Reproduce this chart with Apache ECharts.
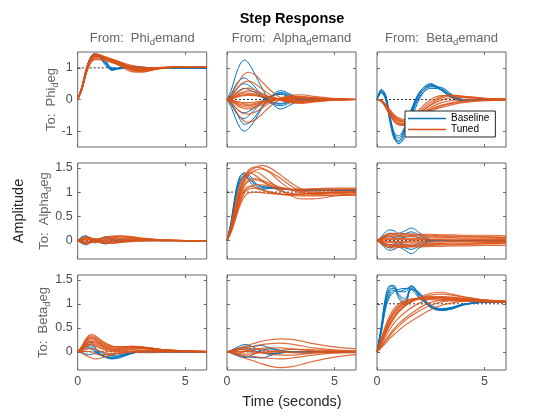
<!DOCTYPE html>
<html><head><meta charset="utf-8">
<script src="https://cdn.jsdelivr.net/npm/echarts@6/dist/echarts.min.js"></script>
<style>html,body{margin:0;padding:0;background:#fff}#c{width:560px;height:420px}</style>
</head><body><div id="c"></div>
<script>
// ---------- DATA ----------
const T = [0,0.2,0.4,0.6,0.8,1.0,1.3,1.6,2.0,2.5,3.0,3.5,4.0,5.0,6.0];
const inputNames = ['Phi','Alpha','Beta'];   // From: <name>_d emand
const outputNames = ['Phi','Alpha','Beta'];  // To: <name>_d eg
const xTicks = [0,5];
const xRange = [0,6];
const yTicksTop = [-1,0,1];
const yTicksLower = [0,0.5,1,1.5];
const yRangeTop = [-1.5,1.5];
const yRangeLower = [-0.38,1.6];
const refLevels = [[1,0,0],[0,1,0],[0,0,1]];
const seriesNames = ['Baseline','Tuned'];

// To: Phi
const phiPhiBase = [
 [0,0.35,0.92,1.32,1.45,1.38,1.12,0.93,1.0,1.05,1.01,0.99,1.0,1.0,1.0],
 [0,0.32,0.88,1.28,1.43,1.4,1.18,0.95,0.98,1.04,1.02,1.0,1.0,1.0,1.0],
 [0,0.38,0.95,1.35,1.44,1.34,1.08,0.92,1.01,1.05,1.01,0.99,1.0,1.0,1.0],
 [0,0.3,0.85,1.25,1.4,1.4,1.22,0.98,0.97,1.03,1.02,1.0,1.0,1.0,1.0],
 [0,0.36,0.9,1.3,1.42,1.36,1.14,0.96,1.0,1.04,1.01,1.0,1.0,1.0,1.0],
 [0,0.33,0.87,1.27,1.41,1.38,1.2,1.0,0.99,1.03,1.01,1.0,1.0,1.0,1.0]
];
const phiPhiTuned = [
 [0,0.4,0.95,1.3,1.42,1.4,1.3,1.2,1.08,0.92,0.88,0.94,0.99,1.03,1.03],
 [0,0.38,0.9,1.25,1.38,1.38,1.32,1.24,1.12,0.96,0.9,0.95,1.0,1.04,1.03],
 [0,0.42,0.98,1.32,1.44,1.42,1.33,1.22,1.05,0.88,0.86,0.93,0.99,1.03,1.03],
 [0,0.36,0.86,1.2,1.32,1.33,1.3,1.26,1.16,1.02,0.96,0.97,1.01,1.04,1.04],
 [0,0.4,0.93,1.28,1.4,1.4,1.35,1.28,1.17,1.04,0.98,0.98,1.01,1.04,1.03],
 [0,0.35,0.84,1.18,1.28,1.28,1.25,1.2,1.12,1.03,0.99,0.99,1.01,1.03,1.03],
 [0,0.41,0.96,1.3,1.4,1.37,1.28,1.18,1.06,0.94,0.91,0.95,1.0,1.04,1.03],
 [0,0.37,0.88,1.23,1.35,1.35,1.3,1.22,1.12,1.0,0.95,0.97,1.01,1.03,1.02],
 [0,0.39,0.92,1.26,1.37,1.36,1.32,1.26,1.18,1.08,1.02,1.0,1.01,1.03,1.02],
 [0,0.34,0.82,1.15,1.26,1.26,1.22,1.16,1.09,1.02,0.99,1.0,1.02,1.04,1.03],
 [0,0.4,0.94,1.29,1.41,1.39,1.31,1.21,1.1,0.97,0.92,0.95,1.0,1.04,1.04],
 [0,0.37,0.89,1.24,1.36,1.36,1.31,1.25,1.15,1.0,0.93,0.95,1.0,1.03,1.03]
];
const alphaPhiBase = [
 [0,0.3,0.75,1.1,1.25,1.15,0.8,0.4,-0.05,-0.3,-0.15,0,0.03,0,0],
 [0,-0.25,-0.6,-0.88,-1.0,-0.92,-0.65,-0.3,0.05,0.28,0.15,0,-0.03,0,0],
 [0,0.18,0.45,0.62,0.68,0.6,0.4,0.15,-0.1,-0.2,-0.08,0.02,0,0,0],
 [0,-0.16,-0.4,-0.56,-0.6,-0.52,-0.32,-0.1,0.1,0.2,0.08,-0.02,0,0,0],
 [0,0.12,0.3,0.44,0.5,0.45,0.3,0.1,-0.08,-0.15,-0.05,0.02,0,0,0],
 [0,-0.1,-0.26,-0.38,-0.42,-0.38,-0.25,-0.06,0.1,0.16,0.06,-0.01,0,0,0],
 [0,0.08,0.2,0.3,0.35,0.32,0.22,0.08,-0.05,-0.12,-0.06,0,0,0,0],
 [0,-0.14,-0.36,-0.62,-0.78,-0.75,-0.55,-0.25,0.05,0.22,0.12,0,-0.02,0,0]
];
const alphaPhiTuned = [
 [0,0.15,0.4,0.62,0.8,0.86,0.78,0.58,0.3,0.05,-0.1,-0.12,-0.08,-0.02,0],
 [0,-0.14,-0.36,-0.55,-0.68,-0.72,-0.65,-0.48,-0.22,0.02,0.14,0.15,0.1,0.03,0],
 [0,0.1,0.28,0.45,0.55,0.58,0.5,0.35,0.15,-0.02,-0.1,-0.1,-0.06,-0.01,0],
 [0,-0.1,-0.25,-0.38,-0.45,-0.46,-0.4,-0.28,-0.1,0.05,0.1,0.1,0.06,0.02,0],
 [0,0.07,0.18,0.28,0.34,0.36,0.3,0.2,0.08,-0.03,-0.08,-0.08,-0.05,-0.01,0],
 [0,-0.06,-0.15,-0.24,-0.28,-0.3,-0.26,-0.18,-0.06,0.04,0.08,0.07,0.05,0.01,0],
 [0,0.04,0.1,0.16,0.2,0.2,0.17,0.12,0.06,0.0,-0.04,-0.05,-0.04,-0.02,0],
 [0,-0.04,-0.1,-0.15,-0.18,-0.19,-0.16,-0.1,-0.03,0.03,0.05,0.05,0.04,0.02,0.01],
 [0,0.02,0.06,0.1,0.12,0.13,0.12,0.09,0.05,0.02,0.0,-0.02,-0.02,-0.01,0],
 [0,-0.02,-0.05,-0.08,-0.1,-0.1,-0.08,-0.05,-0.02,0.01,0.03,0.03,0.02,0.01,0],
 [0,0.05,0.13,0.2,0.25,0.27,0.24,0.17,0.08,0.0,-0.05,-0.06,-0.05,-0.02,0],
 [0,-0.05,-0.12,-0.19,-0.23,-0.24,-0.21,-0.14,-0.05,0.02,0.06,0.06,0.04,0.02,0],
 [0,0.03,0.08,0.12,0.15,0.16,0.14,0.1,0.04,-0.01,-0.03,-0.04,-0.03,-0.01,0],
 [0,-0.03,-0.07,-0.11,-0.14,-0.15,-0.13,-0.08,-0.02,0.02,0.04,0.04,0.03,0.01,0]
];
const betaPhiBase = [
 [0,0.3,0.1,-0.6,-1.2,-1.38,-1.1,-0.5,0.15,0.45,0.35,0.1,-0.02,-0.02,0],
 [0,0.25,0.05,-0.7,-1.25,-1.32,-0.95,-0.35,0.25,0.5,0.3,0.05,-0.04,-0.01,0],
 [0,0.32,0.15,-0.5,-1.1,-1.4,-1.2,-0.65,0.05,0.4,0.38,0.15,0.0,-0.02,0],
 [0,0.2,0.0,-0.65,-1.1,-1.22,-0.9,-0.4,0.2,0.42,0.3,0.08,-0.02,-0.01,0],
 [0,0.28,0.08,-0.55,-1.05,-1.15,-0.85,-0.3,0.25,0.48,0.28,0.05,-0.03,0,0],
 [0,0.22,0.02,-0.6,-1.15,-1.3,-1.0,-0.45,0.1,0.35,0.32,0.12,0.0,-0.02,0]
];
const betaPhiTuned = [
 [0,-0.05,-0.2,-0.42,-0.6,-0.72,-0.78,-0.7,-0.5,-0.25,-0.1,-0.03,0,0.02,0.01],
 [0,-0.06,-0.25,-0.5,-0.7,-0.8,-0.82,-0.72,-0.45,-0.15,0.05,0.12,0.1,0.04,0.01],
 [0,-0.04,-0.18,-0.38,-0.55,-0.65,-0.7,-0.65,-0.5,-0.32,-0.2,-0.12,-0.07,-0.03,-0.01],
 [0,-0.05,-0.22,-0.45,-0.65,-0.76,-0.8,-0.68,-0.38,-0.08,0.1,0.14,0.1,0.04,0.01],
 [0,-0.03,-0.15,-0.32,-0.48,-0.58,-0.63,-0.58,-0.46,-0.3,-0.18,-0.1,-0.05,-0.02,0],
 [0,-0.05,-0.2,-0.4,-0.58,-0.68,-0.72,-0.64,-0.42,-0.18,-0.02,0.06,0.06,0.03,0.01],
 [0,-0.06,-0.24,-0.48,-0.68,-0.78,-0.76,-0.6,-0.3,0.0,0.12,0.12,0.08,0.03,0.01],
 [0,-0.04,-0.17,-0.36,-0.52,-0.62,-0.68,-0.62,-0.48,-0.36,-0.25,-0.16,-0.1,-0.04,-0.02]
];
// To: Alpha
const phiAlphaBase = [
 [0,0.08,0.1,0.02,-0.05,0.02,0.08,0.03,-0.02,0,0,0,0,0,0],
 [0,-0.06,-0.09,-0.02,0.04,-0.03,-0.07,-0.02,0.02,0,0,0,0,0,0],
 [0,0.05,0.07,0.0,-0.03,0.03,0.06,0.02,-0.01,0,0,0,0,0,0],
 [0,-0.04,-0.06,0.01,0.03,-0.02,-0.05,-0.01,0.01,0,0,0,0,0,0]
];
const phiAlphaTuned = [
 [0,0.04,0.07,0.05,0.02,0.03,0.06,0.08,0.09,0.07,0.04,0.02,0.01,0,0],
 [0,-0.04,-0.06,-0.04,-0.02,-0.03,-0.05,-0.05,-0.03,-0.01,0,0,0,0,0],
 [0,0.03,0.05,0.04,0.01,0.02,0.04,0.06,0.07,0.06,0.04,0.03,0.01,0,0],
 [0,-0.03,-0.05,-0.03,0.0,-0.01,-0.03,-0.02,0,0.02,0.03,0.02,0.01,0,0],
 [0,0.02,0.03,0.02,0.0,0.01,0.02,0.04,0.05,0.04,0.02,0.01,0,0,0],
 [0,-0.02,-0.03,-0.02,-0.01,-0.02,-0.03,-0.03,-0.02,0,0.01,0.01,0.01,0,0],
 [0,0.05,0.08,0.06,0.03,0.04,0.07,0.09,0.1,0.08,0.05,0.03,0.01,0,0],
 [0,-0.05,-0.07,-0.05,-0.02,-0.04,-0.06,-0.06,-0.04,-0.02,-0.01,0,0,0,0],
 [0,0.01,0.02,0.01,0.0,0.0,0.01,0.02,0.03,0.03,0.02,0.01,0.01,0,0],
 [0,-0.01,-0.02,-0.01,0.0,-0.01,-0.01,-0.01,0.0,0.01,0.01,0.01,0,0,0]
];
const alphaAlphaBase = [
 [0,0.4,0.95,1.3,1.4,1.32,1.15,1.08,1.1,1.08,1.05,1.04,1.04,1.04,1.04],
 [0,0.35,0.85,1.2,1.35,1.35,1.2,1.1,1.08,1.06,1.05,1.05,1.04,1.04,1.04],
 [0,0.42,1.0,1.32,1.38,1.25,1.1,1.05,1.08,1.07,1.05,1.04,1.04,1.04,1.04],
 [0,0.38,0.9,1.25,1.32,1.28,1.18,1.12,1.1,1.07,1.05,1.04,1.04,1.04,1.04]
];
const alphaAlphaTuned = [
 [0,0.3,0.7,1.05,1.3,1.45,1.52,1.5,1.4,1.2,1.05,0.98,0.97,1.0,1.01],
 [0,0.25,0.6,0.95,1.2,1.35,1.45,1.48,1.42,1.28,1.12,1.0,0.95,0.97,1.0],
 [0,0.35,0.8,1.15,1.35,1.4,1.35,1.25,1.12,1.02,0.97,0.96,0.98,1.0,1.0],
 [0,0.2,0.5,0.8,1.0,1.1,1.15,1.15,1.12,1.08,1.05,1.04,1.05,1.06,1.06],
 [0,0.22,0.55,0.85,1.05,1.12,1.1,1.05,1.0,0.96,0.95,0.96,0.98,1.0,1.0],
 [0,0.18,0.45,0.72,0.9,0.98,1.0,0.99,0.97,0.95,0.94,0.94,0.94,0.93,0.93],
 [0,0.28,0.65,1.0,1.25,1.38,1.42,1.36,1.22,1.05,0.92,0.86,0.86,0.92,0.97],
 [0,0.3,0.72,1.08,1.3,1.42,1.5,1.55,1.5,1.35,1.18,1.05,0.98,0.98,1.0],
 [0,0.24,0.58,0.9,1.12,1.22,1.25,1.22,1.15,1.08,1.04,1.02,1.02,1.04,1.05],
 [0,0.26,0.62,0.95,1.15,1.25,1.28,1.25,1.18,1.1,1.06,1.06,1.07,1.08,1.08],
 [0,0.2,0.48,0.78,0.98,1.06,1.08,1.05,1.0,0.96,0.93,0.92,0.92,0.94,0.96]
];
const betaAlphaBase = [
 [0,0.08,0.18,0.22,0.2,0.15,0.2,0.26,0.15,0.02,0,0,0,0,0],
 [0,-0.07,-0.16,-0.2,-0.18,-0.14,-0.2,-0.27,-0.14,-0.02,0,0,0,0,0],
 [0,0.05,0.12,0.15,0.13,0.1,0.14,0.18,0.1,0.01,0,0,0,0,0],
 [0,-0.05,-0.12,-0.15,-0.12,-0.1,-0.15,-0.18,-0.1,-0.01,0,0,0,0,0],
 [0,0.03,0.07,0.08,0.06,0.05,0.07,0.1,0.05,0,0,0,0,0,0],
 [0,-0.03,-0.07,-0.09,-0.07,-0.05,-0.08,-0.11,-0.05,0,0,0,0,0,0]
];
const betaAlphaTuned = [
 [0,0.05,0.1,0.12,0.13,0.13,0.13,0.12,0.12,0.11,0.1,0.1,0.09,0.08,0.07],
 [0,-0.05,-0.1,-0.12,-0.12,-0.12,-0.12,-0.12,-0.11,-0.1,-0.09,-0.09,-0.08,-0.07,-0.06],
 [0,0.03,0.07,0.08,0.08,0.08,0.08,0.08,0.07,0.07,0.06,0.06,0.05,0.05,0.04],
 [0,-0.03,-0.06,-0.08,-0.08,-0.08,-0.08,-0.07,-0.07,-0.06,-0.06,-0.05,-0.05,-0.04,-0.04],
 [0,0.02,0.04,0.04,0.04,0.04,0.04,0.04,0.04,0.03,0.03,0.03,0.03,0.02,0.02],
 [0,-0.02,-0.03,-0.04,-0.04,-0.04,-0.04,-0.03,-0.03,-0.03,-0.03,-0.02,-0.02,-0.02,-0.02],
 [0,0.01,0.02,0.02,0.02,0.02,0.02,0.02,0.02,0.02,0.02,0.01,0.01,0.01,0.01],
 [0,-0.01,-0.01,-0.02,-0.02,-0.02,-0.02,-0.01,-0.01,-0.01,-0.01,-0.01,-0.01,-0.01,0],
 [0,0.04,0.09,0.1,0.1,0.1,0.1,0.1,0.1,0.09,0.09,0.08,0.08,0.07,0.06],
 [0,-0.04,-0.08,-0.1,-0.1,-0.1,-0.1,-0.1,-0.09,-0.08,-0.08,-0.07,-0.07,-0.06,-0.05],
 [0,0.06,0.12,0.15,0.15,0.15,0.14,0.14,0.13,0.13,0.12,0.12,0.11,0.11,0.1],
 [0,-0.06,-0.12,-0.15,-0.15,-0.14,-0.14,-0.13,-0.13,-0.12,-0.12,-0.11,-0.11,-0.1,-0.1]
];
// To: Beta
const phiBetaBase = [
 [0,0.08,0.18,0.2,0.1,-0.02,-0.1,-0.14,-0.1,-0.03,0,0,0,0,0],
 [0,0.06,0.14,0.15,0.06,-0.04,-0.12,-0.15,-0.12,-0.04,0,0,0,0,0],
 [0,0.05,0.1,0.1,0.03,-0.05,-0.1,-0.12,-0.08,-0.02,0,0,0,0,0],
 [0,0.04,0.08,0.06,0.0,-0.06,-0.1,-0.11,-0.09,-0.03,0,0,0,0,0],
 [0,-0.02,-0.05,-0.06,-0.03,0.0,-0.05,-0.08,-0.06,-0.02,0,0,0,0,0]
];
const phiBetaTuned = [
 [0,0.12,0.28,0.36,0.34,0.27,0.18,0.12,0.1,0.1,0.08,0.05,0.03,0.01,0],
 [0,0.1,0.24,0.3,0.28,0.22,0.14,0.1,0.1,0.12,0.1,0.07,0.04,0.01,0],
 [0,0.08,0.2,0.25,0.24,0.18,0.1,0.06,0.06,0.09,0.09,0.07,0.04,0.02,0.01],
 [0,0.06,0.15,0.2,0.18,0.13,0.07,0.03,0.03,0.06,0.07,0.06,0.04,0.02,0.01],
 [0,0.04,0.1,0.14,0.12,0.08,0.03,0.0,0.0,0.02,0.03,0.03,0.02,0.01,0],
 [0,0.02,0.05,0.07,0.05,0.02,-0.02,-0.04,-0.03,0.0,0.02,0.02,0.01,0.0,0],
 [0,-0.03,-0.08,-0.12,-0.15,-0.14,-0.1,-0.06,-0.03,0.0,0.01,0.01,0.01,0,0],
 [0,0.0,0.01,0.0,-0.04,-0.06,-0.06,-0.04,-0.02,-0.01,-0.02,-0.02,-0.01,0,0],
 [0,0.11,0.26,0.33,0.31,0.25,0.16,0.11,0.1,0.11,0.09,0.06,0.04,0.01,0],
 [0,0.09,0.22,0.28,0.26,0.2,0.12,0.08,0.08,0.1,0.09,0.07,0.04,0.02,0],
 [0,0.07,0.17,0.22,0.21,0.16,0.09,0.05,0.05,0.08,0.08,0.06,0.04,0.02,0.01],
 [0,0.05,0.12,0.17,0.15,0.1,0.05,0.02,0.02,0.05,0.06,0.05,0.03,0.01,0]
];
const alphaBetaBase = [
 [0,0.03,0.08,0.12,0.15,0.14,0.08,0.0,-0.05,-0.03,0,0,0,0,0],
 [0,-0.03,-0.07,-0.1,-0.12,-0.1,-0.04,0.03,0.06,0.03,0,0,0,0,0],
 [0,0.02,0.05,0.08,0.1,0.1,0.12,0.13,0.08,0.02,0,0,0,0,0],
 [0,-0.02,-0.05,-0.08,-0.1,-0.11,-0.12,-0.13,-0.08,-0.02,0,0,0,0,0],
 [0,0.01,0.03,0.05,0.06,0.05,0.02,-0.02,-0.04,-0.02,0,0,0,0,0]
];
const alphaBetaTuned = [
 [0,0.02,0.05,0.08,0.11,0.14,0.18,0.22,0.25,0.27,0.26,0.22,0.17,0.1,0.06],
 [0,-0.02,-0.06,-0.1,-0.13,-0.16,-0.2,-0.25,-0.3,-0.33,-0.31,-0.26,-0.2,-0.11,-0.06],
 [0,0.02,0.05,0.07,0.09,0.1,0.12,0.15,0.17,0.18,0.16,0.12,0.08,0.04,0.02],
 [0,-0.02,-0.04,-0.06,-0.08,-0.09,-0.1,-0.12,-0.14,-0.15,-0.13,-0.1,-0.07,-0.03,-0.02],
 [0,0.01,0.03,0.05,0.06,0.07,0.06,0.04,0.02,0.0,-0.02,-0.03,-0.02,-0.01,0],
 [0,-0.01,-0.03,-0.04,-0.05,-0.05,-0.04,-0.02,0.0,0.03,0.05,0.05,0.04,0.02,0.01],
 [0,0.02,0.04,0.05,0.04,0.02,0.0,-0.02,-0.05,-0.07,-0.07,-0.05,-0.03,-0.01,0],
 [0,-0.01,-0.02,-0.02,0.0,0.02,0.05,0.07,0.08,0.08,0.06,0.04,0.02,0.01,0],
 [0,0.01,0.01,0.01,0.01,0.0,-0.01,-0.01,-0.01,-0.01,0,0,0,0,0]
];
const betaBetaBase = [
 [0,0.55,1.15,1.38,1.35,1.12,0.98,1.3,1.2,0.95,0.87,0.9,0.98,1.03,1.03],
 [0,0.5,1.1,1.35,1.38,1.18,1.02,1.32,1.18,0.93,0.88,0.91,0.99,1.03,1.03],
 [0,0.45,1.0,1.25,1.32,1.25,1.25,1.38,1.15,0.92,0.86,0.9,0.98,1.03,1.03],
 [0,0.42,0.95,1.2,1.28,1.26,1.3,1.36,1.12,0.94,0.89,0.92,0.99,1.03,1.03],
 [0,0.48,1.05,1.3,1.33,1.2,1.1,1.35,1.22,0.96,0.87,0.89,0.97,1.03,1.03],
 [0,0.4,0.9,1.15,1.25,1.3,1.32,1.3,1.1,0.97,0.9,0.93,0.99,1.03,1.03]
];
const betaBetaTuned = [
 [0,0.25,0.5,0.7,0.85,0.95,1.05,1.1,1.12,1.12,1.1,1.08,1.07,1.05,1.04],
 [0,0.22,0.45,0.65,0.8,0.9,1.0,1.07,1.12,1.15,1.14,1.12,1.1,1.06,1.04],
 [0,0.2,0.42,0.6,0.75,0.86,0.97,1.05,1.12,1.18,1.2,1.18,1.14,1.08,1.05],
 [0,0.18,0.38,0.55,0.7,0.82,0.95,1.05,1.14,1.22,1.24,1.2,1.15,1.08,1.05],
 [0,0.15,0.32,0.47,0.6,0.7,0.82,0.92,1.02,1.1,1.13,1.13,1.11,1.07,1.05],
 [0,0.12,0.25,0.37,0.48,0.58,0.7,0.8,0.92,1.03,1.08,1.1,1.1,1.07,1.05],
 [0,0.1,0.22,0.33,0.44,0.53,0.65,0.75,0.86,0.97,1.04,1.07,1.08,1.07,1.05],
 [0,0.28,0.55,0.76,0.9,0.99,1.07,1.1,1.1,1.09,1.07,1.06,1.05,1.04,1.04],
 [0,0.24,0.48,0.68,0.82,0.92,1.02,1.08,1.12,1.13,1.12,1.1,1.08,1.05,1.04],
 [0,0.2,0.4,0.58,0.72,0.84,0.96,1.04,1.1,1.14,1.15,1.14,1.11,1.07,1.05],
 [0,0.08,0.18,0.28,0.36,0.44,0.55,0.64,0.75,0.88,0.97,1.02,1.05,1.06,1.05]
];

const panelData = [
 [[phiPhiBase, phiPhiTuned],[alphaPhiBase, alphaPhiTuned],[betaPhiBase, betaPhiTuned]],
 [[phiAlphaBase, phiAlphaTuned],[alphaAlphaBase, alphaAlphaTuned],[betaAlphaBase, betaAlphaTuned]],
 [[phiBetaBase, phiBetaTuned],[alphaBetaBase, alphaBetaTuned],[betaBetaBase, betaBetaTuned]]
];

// ---------- LAYOUT / STYLE ----------
const colLeft = [77.7, 227, 377];
const rowTop = [52, 163, 275];
const rowH = [95, 96, 95];
const W = 129;
const FONT = '"Liberation Sans", Arial, Helvetica, sans-serif';
const AX = '#666666';
const TICKC = '#4d4d4d';
const BLUE = '#0072BD', ORANGE = '#D95319';

const grids = [], xAxes = [], yAxes = [], series = [];
for (let r = 0; r < 3; r++) {
  for (let c = 0; c < 3; c++) {
    const g = r * 3 + c;
    grids.push({left: colLeft[c], top: rowTop[r], width: W, height: rowH[r],
      show: true, borderColor: AX, borderWidth: 1, backgroundColor: '#fff'});
    const yr = r === 0 ? yRangeTop : yRangeLower;
    const yt = r === 0 ? yTicksTop : yTicksLower;
    const tick = vals => ({show: true, inside: true, length: 3, customValues: vals, lineStyle: {color: AX}});
    const line = {show: false, onZero: false};
    xAxes.push({type: 'value', gridIndex: g, min: xRange[0], max: xRange[1], position: 'bottom',
      axisLine: line, splitLine: {show: false}, axisTick: tick(xTicks),
      axisLabel: {show: r === 2, customValues: xTicks, color: TICKC, fontSize: 12.5, fontFamily: FONT, margin: 5}});
    xAxes.push({type: 'value', gridIndex: g, min: xRange[0], max: xRange[1], position: 'top',
      axisLine: line, splitLine: {show: false}, axisTick: tick(xTicks), axisLabel: {show: false}});
    yAxes.push({type: 'value', gridIndex: g, min: yr[0], max: yr[1], position: 'left',
      axisLine: line, splitLine: {show: false}, axisTick: tick(yt),
      axisLabel: {show: c === 0, customValues: yt, color: TICKC, fontSize: 12.5, fontFamily: FONT, margin: 5}});
    yAxes.push({type: 'value', gridIndex: g, min: yr[0], max: yr[1], position: 'right',
      axisLine: line, splitLine: {show: false}, axisTick: tick(yt), axisLabel: {show: false}});

    const xi = 2 * g, yi = 2 * g;
    series.push({type: 'line', xAxisIndex: xi, yAxisIndex: yi, silent: true, symbol: 'none', z: 1,
      data: [[xRange[0], refLevels[r][c]], [xRange[1], refLevels[r][c]]],
      lineStyle: {color: '#333', width: 1, type: [2, 2]}});
    const [base, tuned] = panelData[r][c];
    base.forEach(v => series.push({type: 'line', name: seriesNames[0], xAxisIndex: xi, yAxisIndex: yi,
      symbol: 'none', smooth: 0.35, z: 2, color: BLUE, silent: true,
      lineStyle: {color: BLUE, width: 1}, data: T.map((t, i) => [t, v[i]])}));
    tuned.forEach(v => series.push({type: 'line', name: seriesNames[1], xAxisIndex: xi, yAxisIndex: yi,
      symbol: 'none', smooth: 0.35, z: 3, color: ORANGE, silent: true,
      lineStyle: {color: ORANGE, width: 1.2, opacity: 0.85}, data: T.map((t, i) => [t, v[i]])}));
  }
}

function subText(prefix, name, suffix) {
  return '{a|' + prefix + name + '}{s|d}{a|' + suffix + '}';
}
const richStyle = {a: {fontSize: 13, fontFamily: FONT, fill: '#666', lineHeight: 18, verticalAlign: 'middle'},
                   s: {fontSize: 9.5, fontFamily: FONT, fill: '#666', lineHeight: 11, verticalAlign: 'bottom'}};
const graphics = [];
graphics.push({type: 'text', x: 292, y: 19, style: {text: 'Step Response', font: 'bold 14.5px ' + FONT,
  fill: '#000', align: 'center', verticalAlign: 'middle'}});
for (let c = 0; c < 3; c++) {
  graphics.push({type: 'text', x: colLeft[c] + W / 2, y: 38, style: {
    text: subText('From:  ', inputNames[c], 'emand'), align: 'center', verticalAlign: 'middle', rich: richStyle}});
}
const rowLabelX = [51, 44, 43];
for (let r = 0; r < 3; r++) {
  graphics.push({type: 'text', x: rowLabelX[r], y: rowTop[r] + rowH[r] / 2, rotation: Math.PI / 2, style: {
    text: subText('To:  ', outputNames[r], 'eg'), align: 'center', verticalAlign: 'middle', rich: richStyle}});
}
graphics.push({type: 'text', x: 18.5, y: 211, rotation: Math.PI / 2, style: {text: 'Amplitude',
  font: '14.5px ' + FONT, fill: '#262626', align: 'center', verticalAlign: 'middle'}});
graphics.push({type: 'text', x: 292, y: 402, style: {text: 'Time (seconds)',
  font: '14.5px ' + FONT, fill: '#262626', align: 'center', verticalAlign: 'middle'}});

const chart = echarts.init(document.getElementById('c'), null, {renderer: 'canvas'});
chart.setOption({
  animation: false,
  grid: grids, xAxis: xAxes, yAxis: yAxes, series: series,
  legend: {data: seriesNames.map(n => ({name: n})), selectedMode: false, orient: 'vertical',
    left: 405, top: 111, icon: 'rect', itemWidth: 38, itemHeight: 1.5, itemGap: 0,
    padding: [2, 6, 2, 3], backgroundColor: '#fff', borderColor: '#262626', borderWidth: 1,
    textStyle: {fontSize: 10, fontFamily: FONT, color: '#000', lineHeight: 11}, z: 10},
  graphic: graphics
});
</script></body></html>
